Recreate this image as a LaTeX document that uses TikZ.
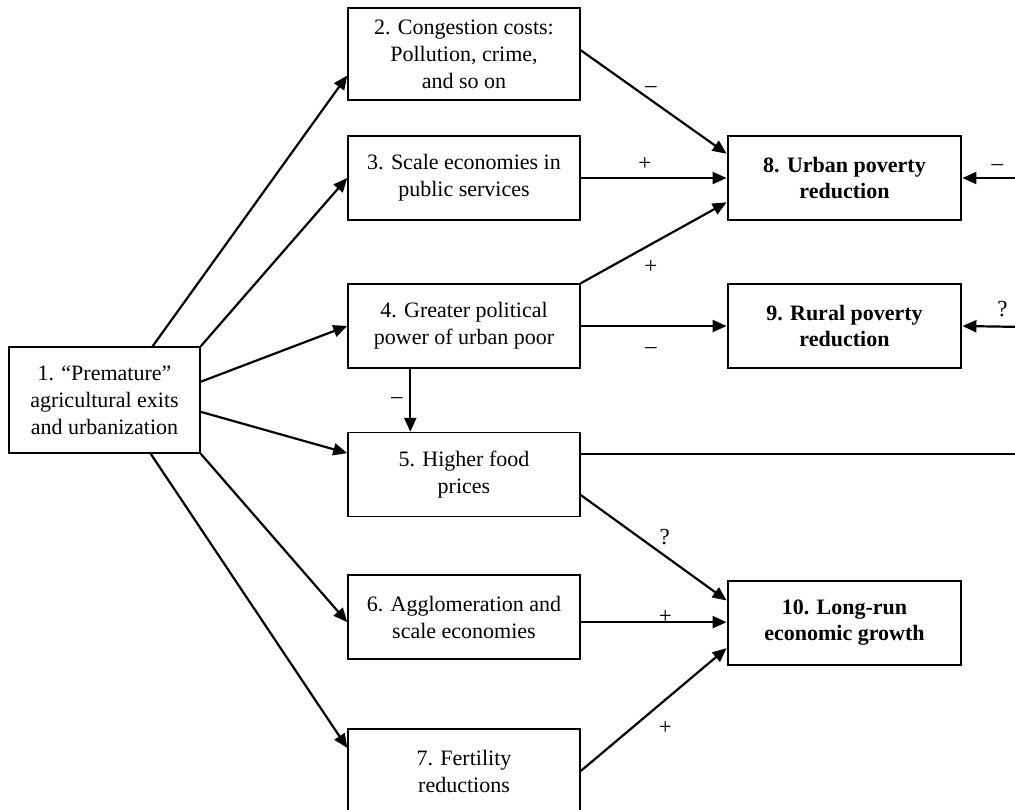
\documentclass[tikz,border=0pt]{standalone}
\usepackage{fontspec}
\setmainfont{Liberation Serif}
\usetikzlibrary{arrows.meta,calc}
\tikzstyle{arrow} = [-{Triangle[length=7pt,width=6pt]}, line width=1.1pt]
\tikzstyle{box} = [draw, rectangle, align=center, line width=0.75pt, minimum width=116pt, minimum height=42pt, inner sep=2pt, font=\fontsize{11}{13.5}\selectfont]
\tikzstyle{goal} = [box, line width=1.4pt, minimum width=116.5pt, font=\fontsize{11}{13}\selectfont\bfseries]
\tikzstyle{sign} = [font=\fontsize{11.5}{13.5}\selectfont]

\begin{document}
\begin{tikzpicture}[x=0.5pt, y=-0.5pt]
        \useasboundingbox (0,0) rectangle (1015,809);
        \clip (0,0) rectangle (1015,809);

        \node[box, minimum width=95.5pt, minimum height=53pt] at (104.5,400) (n1) {1. “Premature”\\agricultural exits\\and urbanization};
        \node[box, minimum height=46pt] at (464,54) (n2) {2. Congestion costs:\\Pollution, crime,\\and so on};
        \node[box] at (464,178) (n3) {3. Scale economies in\\public services};
        \node[box] at (464,326) (n4) {4. Greater political\\power of urban poor};
        \node[box] at (464,474.5) (n5) {5. Higher food\\prices};
        \node[box] at (464,617) (n6) {6. Agglomeration and\\scale economies};
        \node[box] at (464,771) (n7) {7. Fertility\\reductions};
        \node[goal] at (844.5,178) (n8) {8. Urban poverty\\reduction};
        \node[goal] at (844.5,326) (n9) {9. Rural poverty\\reduction};
        \node[goal] at (844.5,623) (n10) {10. Long-run\\economic growth};

        % out of box 1
        \draw[arrow] ($(n1.north west)!0.75!(n1.north east)$) -- ($(n2.north west)!0.73!(n2.south west)$);
        \draw[arrow] (n1.north east) -- (n3.west);
        \draw[arrow] ($(n1.north east)!0.33!(n1.south east)$) -- (n4.west);
        \draw[arrow] ($(n1.north east)!0.61!(n1.south east)$) -- ($(n5.north west)!0.25!(n5.south west)$);
        \draw[arrow] (n1.south east) -- ($(n6.north west)!0.56!(n6.south west)$);
        \draw[arrow] ($(n1.south west)!0.74!(n1.south east)$) -- ($(n7.north west)!0.23!(n7.south west)$);

        % into the outcomes
        \draw[arrow] ($(n2.north east)!0.46!(n2.south east)$) -- ($(n8.north west)!0.22!(n8.south west)$) node[sign, pos=0.48, above]{–};
        \draw[arrow] (n3.east) -- (n8.west) node[sign, pos=0.44, above]{+};
        \draw[arrow] (n4.north east) -- ($(n8.north west)!0.78!(n8.south west)$) node[sign, pos=0.48, below=4pt]{+};
        \draw[arrow] (n4.east) -- (n9.west) node[sign, pos=0.48, below=7pt]{–};
        \coordinate (c45) at ($(n4.south west)!0.27!(n4.south east)$);
        \draw[arrow] (c45) -- (c45 |- n5.north) node[sign, midway, left]{–};
        \draw[arrow] ($(n5.north east)!0.74!(n5.south east)$) -- ($(n10.north west)!0.24!(n10.south west)$) node[sign, pos=0.575, above=1.5pt]{?};
        \coordinate (c6) at ($(n6.north east)!0.56!(n6.south east)$);
        \draw[arrow] (c6) -- (c6 -| n10.west) node[sign, pos=0.58, yshift=2.5pt]{+};
        \draw[arrow] (n7.east) -- ($(n10.north west)!0.79!(n10.south west)$) node[sign, pos=0.58, below=7pt]{+};

        % feedback from the right edge
        \coordinate (c5) at ($(n5.north east)!0.26!(n5.south east)$);
        \coordinate (r5) at (1025,454);
        \draw[line width=0.75pt] (c5) -- (c5 -| r5);
        \coordinate (r8) at (1025,178);
        \draw[arrow] (r8) -- (n8.east) node[sign, pos=0.44, above]{–};
        \coordinate (r9) at (1025,327);
        \draw[arrow] (r9) -- (n9.east) node[sign, pos=0.36, above=1pt]{?};

    \end{tikzpicture}
\end{document}
